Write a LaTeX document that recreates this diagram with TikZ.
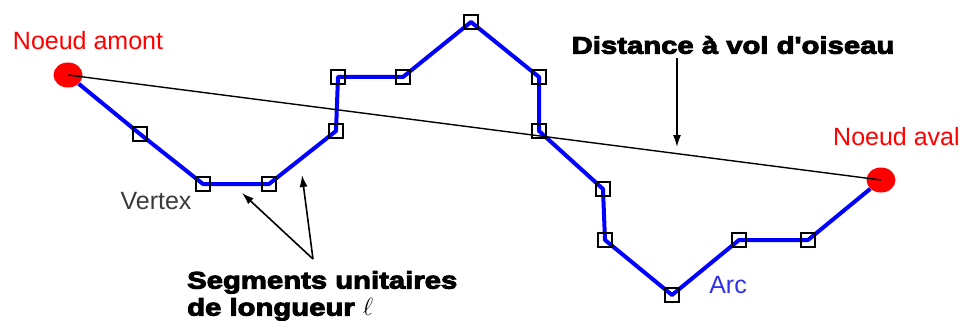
\documentclass[tikz,border=0pt]{standalone}
\usepackage{fontspec}
\setmainfont{Liberation Sans}
\newfontfamily\heavyfont{Liberation Sans}[UprightFont=*-Bold,UprightFeatures={FakeStretch=1.22,FakeBold=4}]
\usepackage{tikz}
\usetikzlibrary{arrows.meta,shapes.geometric,backgrounds}
\definecolor{arcblue}{HTML}{0000FF}
\definecolor{arcText}{HTML}{3030E8}
\definecolor{nodered}{HTML}{FF0000}
\definecolor{vtxgray}{HTML}{3A3A3A}
\tikzset{
  vtx/.style={rectangle,draw=black,line width=2.4pt,minimum size=14pt,inner sep=0pt},
  endpt/.style={ellipse,fill=nodered,minimum width=29pt,minimum height=25pt,inner sep=0pt},
  arcline/.style={draw=arcblue,line width=4pt,line join=round},
  bird/.style={draw=black,line width=1.4pt},
  ar/.style={-{Latex[length=12pt,width=8pt]},draw=black,line width=1.6pt},
  lbl/.style={font=\fontsize{25}{28}\selectfont,inner sep=0pt},
  heavy/.style={font=\heavyfont\fontsize{24}{27}\selectfont,inner sep=0pt,align=left},
}
\begin{document}
\begin{tikzpicture}[x=1pt,y=-1pt]
  \useasboundingbox (0,0) rectangle (962,321);
  % end nodes and vertices
  \node[endpt] (amont) at (68,75) {};
  \node[endpt] (aval) at (881,180) {};
  \foreach \px/\py [count=\i] in {140/134,203/184,269/184,336/131,338/77,403/77,471/22,
      539/77,539/131,603/189,605/240,672/295,739/240,808/240}
    \node[vtx] (v\i) at (\px,\py) {};
  % the arc
  \begin{scope}[on background layer]
    \draw[arcline] (amont) -- (v1.center) -- (v2.center) -- (v3.center) -- (v4.center)
      -- (v5.center) -- (v6.center) -- (v7.center) -- (v8.center) -- (v9.center)
      -- (v10.center) -- (v11.center) -- (v12.center) -- (v13.center) -- (v14.center)
      -- (aval);
  \end{scope}
  \draw[bird] (amont.center) -- (aval.center);
  % labels
  \node[lbl,text=nodered] (lamont) at (88,41) {Noeud amont};
  \node[lbl,text=nodered,anchor=west] (laval) at (833,137) {Noeud aval};
  \node[lbl,text=vtxgray] (lvtx) at (156,201) {Vertex};
  \node[lbl,text=arcText] (larc) at (728,285) {Arc};
  \node[heavy] (ldist) at (733,45) {Distance à vol d'oiseau};
  \node[heavy,anchor=north west] (lseg) at (187,271) {Segments unitaires\\de longueur $\ell$};
  % arrows
  \coordinate (birdsrc) at (677,58);
  \coordinate (birdtip) at (677,147);
  \coordinate (segsrc) at (313,259);
  \coordinate (segtipA) at (242,193);
  \coordinate (segtipB) at (302,175);
  \draw[ar] (birdsrc) -- (birdtip);
  \draw[ar] (segsrc) -- (segtipA);
  \draw[ar] (segsrc) -- (segtipB);
\end{tikzpicture}
\end{document}
